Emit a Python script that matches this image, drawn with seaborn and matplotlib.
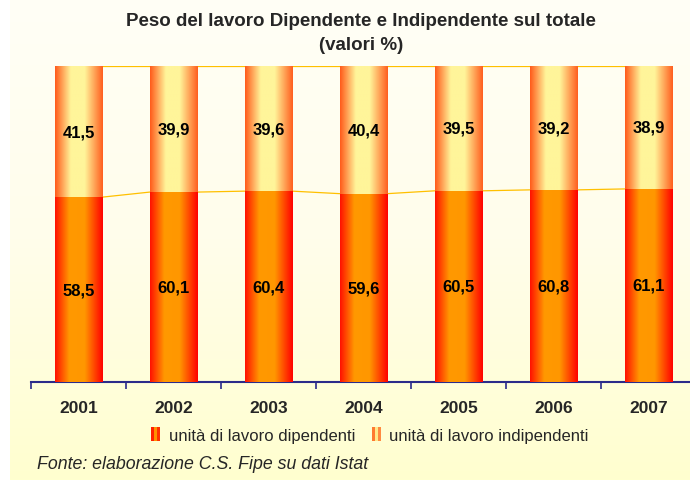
import numpy as np
import pandas as pd
import matplotlib
matplotlib.use("Agg")
import matplotlib.pyplot as plt
import seaborn as sns
from matplotlib.colors import LinearSegmentedColormap
from matplotlib.patches import Rectangle, Patch
from matplotlib.legend_handler import HandlerBase

years = ["2001", "2002", "2003", "2004", "2005", "2006", "2007"]
dipendenti = [58.5, 60.1, 60.4, 59.6, 60.5, 60.8, 61.1]
indipendenti = [41.5, 39.9, 39.6, 40.4, 39.5, 39.2, 38.9]
series_names = ["unità di lavoro dipendenti", "unità di lavoro indipendenti"]
title_lines = ["Peso del lavoro Dipendente e Indipendente sul totale", "(valori %)"]
source_text = "Fonte: elaborazione C.S. Fipe su dati Istat"

df = pd.DataFrame({"anno": years, "dip": dipendenti, "ind": indipendenti})
df["tot"] = df["dip"] + df["ind"]

sns.set_theme(style="white")
plt.rcParams["font.family"] = ["Liberation Sans", "DejaVu Sans"]

fig = plt.figure(figsize=(6.9, 4.81), dpi=100)
fig.patch.set_facecolor("white")

# background gradient panel
bg = fig.add_axes([10 / 690, 0, 1 - 10 / 690, 1], zorder=-5)
bg_cmap = LinearSegmentedColormap.from_list("bg", ["#FFFFF6", "#FFFDEB", "#FFFFCF"])
bg.imshow(np.linspace(0, 1, 256).reshape(-1, 1), cmap=bg_cmap, aspect="auto",
          extent=[0, 1, 0, 1], origin="upper")
bg.set_axis_off()

ax = fig.add_axes([31 / 690, 1 - 383 / 481, 665 / 690, 316 / 481])
ax.set_facecolor("none")

# stacked: total first (independent colour), then dependent on top
sns.barplot(data=df, x="anno", y="tot", color="#FFCC66", width=0.5, ax=ax,
            saturation=1, linewidth=0, zorder=2)
n_first = len(ax.patches)
sns.barplot(data=df, x="anno", y="dip", color="#FF6600", width=0.5, ax=ax,
            saturation=1, linewidth=0, zorder=3)
top_patches = ax.patches[:n_first]
dip_patches = ax.patches[n_first:]

cmap_ind = LinearSegmentedColormap.from_list(
    "ind", [(0, "#FF5A1A"), (0.33, "#FFF59A"), (0.62, "#FFF59A"), (1, "#FF5E1E")])
cmap_dip = LinearSegmentedColormap.from_list(
    "dip", [(0, "#FF1000"), (0.3, "#FF9900"), (0.62, "#FF9700"), (1, "#FF0000")])
grad = np.linspace(0, 1, 256).reshape(1, -1)

for patches, cm, z in [(top_patches, cmap_ind, 2), (dip_patches, cmap_dip, 3)]:
    for p in patches:
        x0, y0 = p.get_x(), p.get_y()
        w, h = p.get_width(), p.get_height()
        im = ax.imshow(grad, cmap=cm, aspect="auto", extent=[x0, x0 + w, y0, y0 + h],
                       zorder=z, interpolation="bilinear")
        im.set_clip_path(p)
        p.set_facecolor("none")

# connector lines between bars
for i in range(len(years) - 1):
    a, b = dip_patches[i], dip_patches[i + 1]
    ax.plot([a.get_x() + a.get_width(), b.get_x()], [a.get_height(), b.get_height()],
            color="#FFC000", lw=0.9, zorder=1)
    a2, b2 = top_patches[i], top_patches[i + 1]
    ax.plot([a2.get_x() + a2.get_width(), b2.get_x()], [a2.get_height(), b2.get_height()],
            color="#FFC000", lw=0.9, zorder=1)

# value labels
for i, p in enumerate(dip_patches):
    cx = p.get_x() + p.get_width() / 2
    ax.text(cx, dipendenti[i] / 2, f"{dipendenti[i]:.1f}".replace(".", ","),
            ha="center", va="center", fontsize=12, fontweight="bold", color="black", zorder=5)
    ax.text(cx, dipendenti[i] + indipendenti[i] / 2, f"{indipendenti[i]:.1f}".replace(".", ","),
            ha="center", va="center", fontsize=12, fontweight="bold", color="black", zorder=5)

ax.set_xlim(-0.5, len(years) - 0.5)
ax.set_ylim(0, 100)
ax.set_xlabel("")
ax.set_ylabel("")
ax.set_yticks([])
ax.set_xticks(np.arange(-0.5, len(years), 1.0))
ax.set_xticklabels([])
ax.set_xticks(np.arange(len(years)), minor=True)
ax.set_xticklabels(years, minor=True, fontsize=12.5, fontweight="bold")
ax.tick_params(axis="x", which="major", direction="out", length=5, width=1.2,
               color="#2B2B8A", bottom=True)
ax.tick_params(axis="x", which="minor", length=0, pad=13)
for s in ["top", "left", "right"]:
    ax.spines[s].set_visible(False)
ax.spines["bottom"].set_color("#2B2B8A")
ax.spines["bottom"].set_linewidth(1.5)


class GradHandler(HandlerBase):
    def __init__(self, colors):
        super().__init__()
        self.colors = colors

    def create_artists(self, legend, orig_handle, xdescent, ydescent, width, height,
                       fontsize, trans):
        n = len(self.colors)
        arts = []
        for i, c in enumerate(self.colors):
            arts.append(Rectangle((-xdescent + i * width / n, -ydescent), width / n, height,
                                  facecolor=c, edgecolor="none", transform=trans))
        return arts


h1 = Patch(label=series_names[0])
h2 = Patch(label=series_names[1])
fig.legend(handles=[h1, h2], loc="center", bbox_to_anchor=(370 / 690, 1 - 436 / 481),
           ncol=2, frameon=False, fontsize=12, handlelength=0.55, handleheight=0.85,
           handletextpad=0.5, columnspacing=1.0,
           handler_map={h1: GradHandler(["#FF2000", "#FF9000", "#FF3000"]),
                        h2: GradHandler(["#FF7A30", "#FFE98A", "#FF8A40"])})

fig.text(361 / 690, 1 - 22 / 481, title_lines[0], ha="center", va="center",
         fontsize=13.5, fontweight="bold")
fig.text(361 / 690, 1 - 46 / 481, title_lines[1], ha="center", va="center",
         fontsize=13.5, fontweight="bold")
fig.text(37 / 690, 1 - 465 / 481, source_text, ha="left", va="center",
         fontsize=12.8, fontstyle="italic")

fig.savefig("out.png", dpi=100, facecolor=fig.get_facecolor())
